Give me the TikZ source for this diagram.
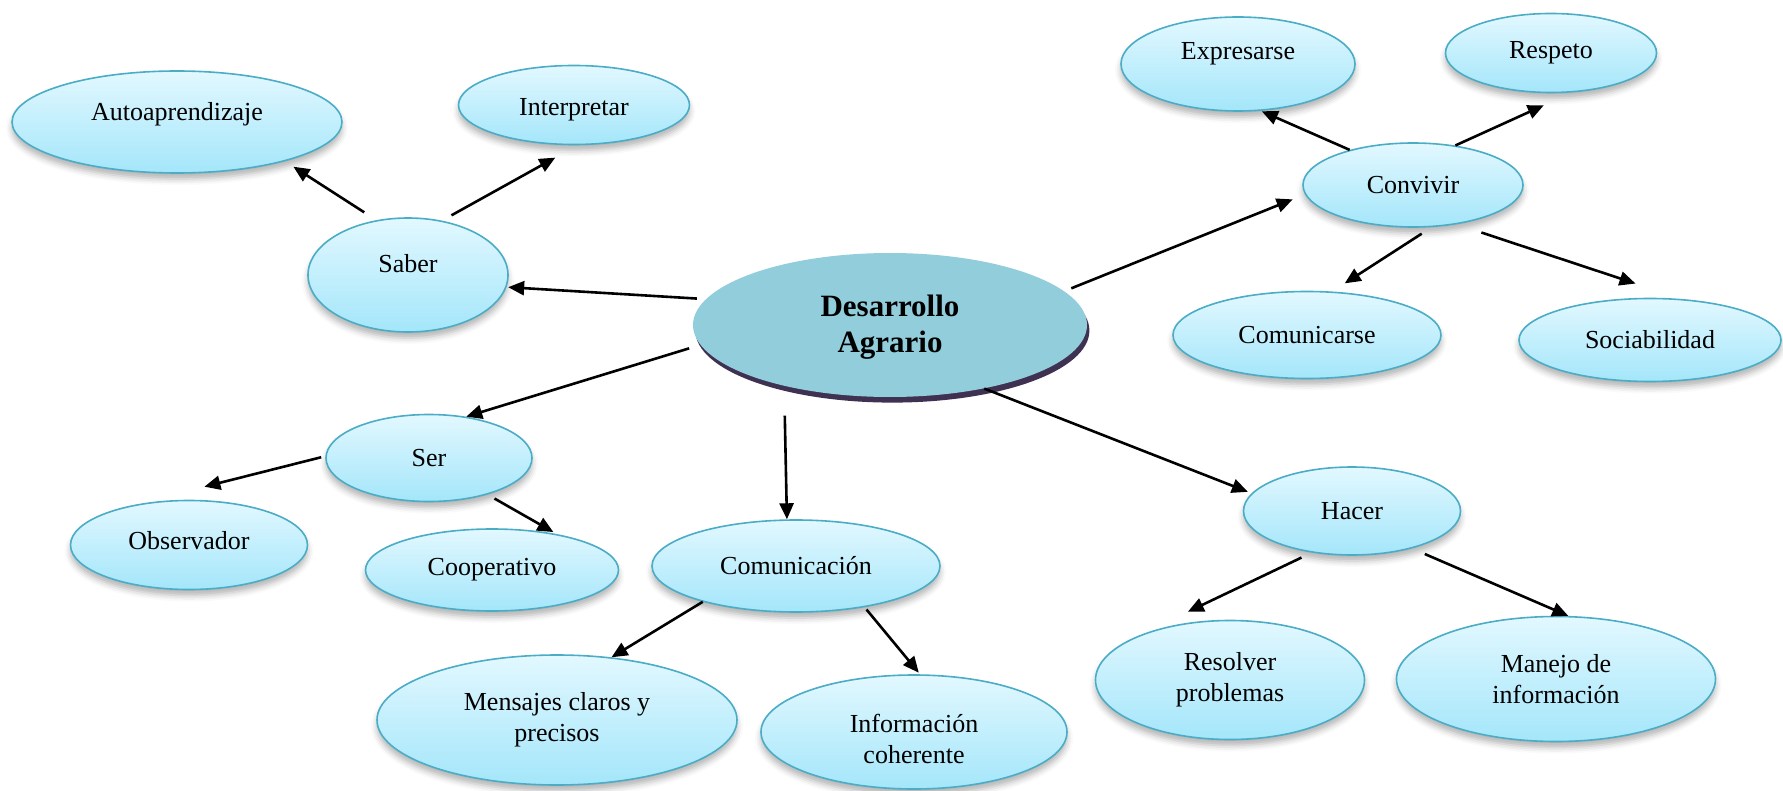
\documentclass[tikz,border=0pt]{standalone}
\usepackage{fontspec}
\setmainfont{Liberation Serif}
\usetikzlibrary{arrows.meta,shapes.geometric,shadows,shadows.blur}
\definecolor{bordeazul}{HTML}{4BACC6}
\definecolor{cieloarriba}{HTML}{E2F8FF}
\definecolor{cieloabajo}{HTML}{A4E6FA}
\definecolor{centroazul}{HTML}{92CDDC}
\definecolor{sombramorada}{HTML}{3F3151}

\begin{document}
\begin{tikzpicture}[
    x=0.5pt, y=-0.5pt,
    idea/.style={ellipse, draw=bordeazul, line width=0.8pt,
                top color=cieloarriba, bottom color=cieloabajo,
                inner sep=0pt, align=center,
                font=\fontsize{13}{15.5}\selectfont,
                blur shadow={shadow xshift=0pt, shadow yshift=-3pt,
                             shadow blur radius=3pt, shadow opacity=30}},
    centro/.style={ellipse, fill=centroazul, inner sep=0pt, align=center,
                font=\fontsize{15.5}{18}\selectfont\bfseries,
                drop shadow={shadow xshift=1.2pt, shadow yshift=-2.8pt,
                             fill=sombramorada, opacity=1}},
    arr/.style={-{Triangle[length=8pt,width=7pt]}, line width=1.3pt}
]
\useasboundingbox (0,0) rectangle (1783,791);

% Centre
\node[centro, minimum width=197pt, minimum height=72pt] (dev) at (890,325) {\rule{0pt}{13pt}Desarrollo\\Agrario};

% Saber
\node[idea, minimum width=100pt, minimum height=57pt, text depth=12pt] (saber) at (408,275) {Saber};
\node[idea, minimum width=165pt, minimum height=51pt, text depth=10.8pt] (auto) at (177,122) {Autoaprendizaje};
\node[idea, minimum width=115.5pt, minimum height=39.5pt] (interp) at (574,105) {\rule{0pt}{13pt}Interpretar};

% Ser
\node[idea, minimum width=103pt, minimum height=43.5pt] (ser) at (429,458) {Ser};
\node[idea, minimum width=118.5pt, minimum height=44.5pt, text depth=5pt] (obs) at (189,545) {Observador};
\node[idea, minimum width=126.5pt, minimum height=41pt] (coop) at (492,570) {Cooperativo};

% Comunicacion
\node[idea, minimum width=144pt, minimum height=46pt] (comunic) at (796,566) {Comunicación};
\node[idea, minimum width=180pt, minimum height=65pt] (mens) at (557,720) {Mensajes claros y\\precisos};
\node[idea, minimum width=153pt, minimum height=57pt] (info) at (914,732) {\rule{0pt}{16pt}Información\\coherente};

% Hacer
\node[idea, minimum width=108.5pt, minimum height=44pt] (hacer) at (1352,511) {Hacer};
\node[idea, minimum width=134.5pt, minimum height=59.5pt] (resol) at (1230,680) {Resolver\\problemas};
\node[idea, minimum width=159.5pt, minimum height=62.5pt] (manejo) at (1556,679) {Manejo de\\información};

% Convivir
\node[idea, minimum width=110pt, minimum height=42pt] (conv) at (1413,185) {Convivir};
\node[idea, minimum width=117pt, minimum height=47pt, text depth=13pt] (expr) at (1238,64) {Expresarse};
\node[idea, minimum width=105.5pt, minimum height=39.5pt] (resp) at (1551,53) {Respeto};
\node[idea, minimum width=134pt, minimum height=43.5pt] (comse) at (1307,335) {Comunicarse};
\node[idea, minimum width=131pt, minimum height=41.5pt] (soc) at (1650,340) {Sociabilidad};

% Arrows from the centre
\draw[arr, shorten <=4.4pt, shorten >=0.8pt] (dev.172) -- (saber.-7.5);
\draw[arr, shorten <=5.8pt] (dev.186) -- (ser.48);
\draw[arr, shorten <=14.8pt] (dev.210.8) -- (comunic.101);
\draw[arr, shorten >=2pt] (dev.-34) -- (hacer.170.4);
\draw[arr, shorten <=3.7pt, shorten >=6.6pt] (dev.11.2) -- (conv.185.5);

% Second level
\draw[arr, shorten <=7.2pt, shorten >=5pt] (saber.120) -- (auto.-20);
\draw[arr, shorten <=5.4pt, shorten >=12.7pt] (saber.58) -- (interp.-85.5);
\draw[arr, shorten <=2.1pt, shorten >=42.7pt] (ser.179) -- (obs.151);
\draw[arr, shorten <=4pt, shorten >=2pt] (ser.-32) -- (coop.29);
\draw[arr] (comunic.201) -- (mens.49);
\draw[arr, shorten <=1.5pt, shorten >=1pt] (comunic.-31) -- (info.84);
\draw[arr, shorten <=5.7pt, shorten >=30.9pt] (hacer.226.8) -- (resol.157.4);
\draw[arr, shorten <=7pt] (hacer.-32) -- (manejo.79);
\draw[arr, shorten >=0.5pt] (conv.151) -- (expr.-64);
\draw[arr, shorten >=15.5pt] (conv.43.5) -- (resp.-62.7);
\draw[arr, shorten <=6pt, shorten >=7.5pt] (conv.-66.6) -- (comse.60);
\draw[arr, shorten <=13pt, shorten >=24.5pt] (conv.-42) -- (soc.52);
\end{tikzpicture}
\end{document}
